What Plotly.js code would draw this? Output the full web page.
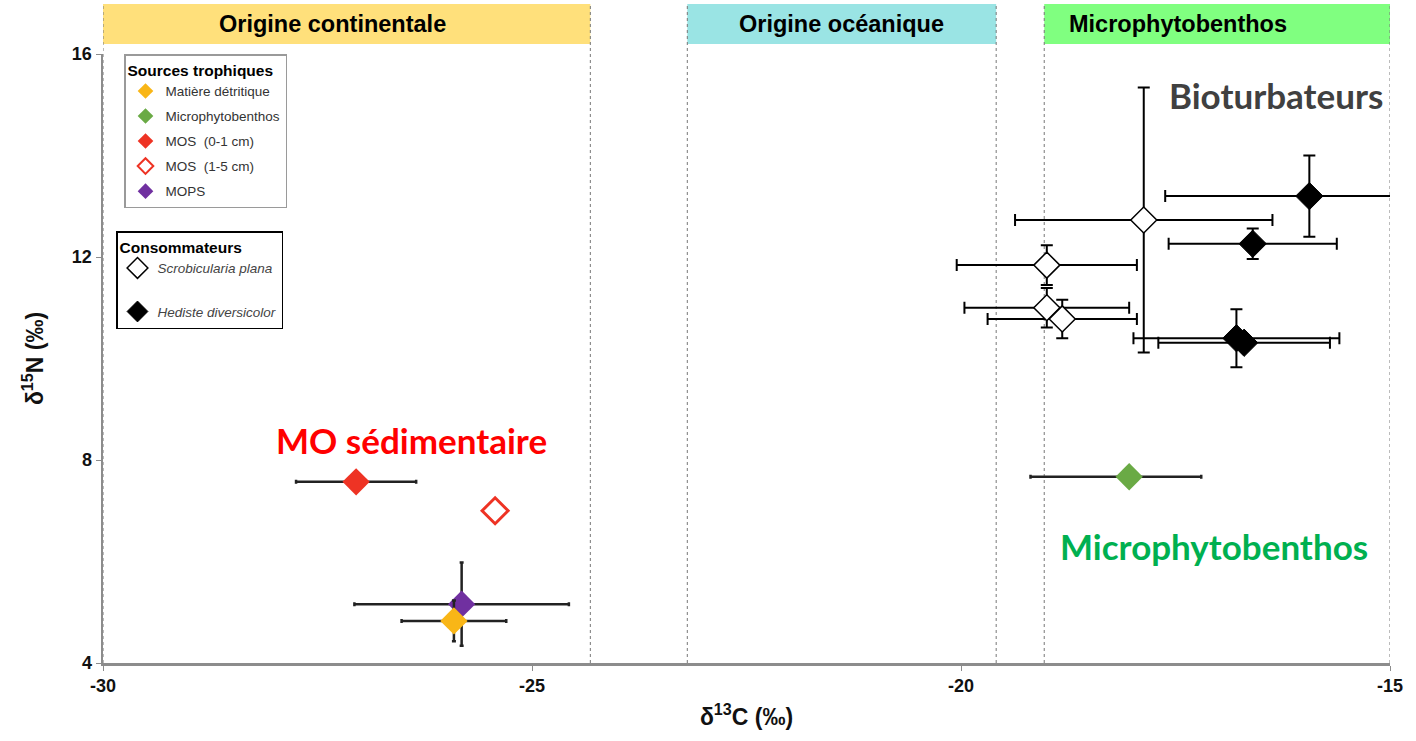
<!DOCTYPE html>
<html><head><meta charset="utf-8">
<script src="https://cdn.plot.ly/plotly-3.0.1.min.js"></script>
<style>html,body{margin:0;padding:0;background:#fff}#chart{width:1416px;height:741px}</style>
</head><body><div id="chart"></div>
<script>
// ---- data (δ13C, δ15N, ‰) ----
const detX=[-25.91], detY=[4.83], detEX=[0.61], detEY=[0.40];
const microX=[-18.04], microY=[7.67], microEXplus=[0.84], microEXminus=[1.15];
const mos01X=[-27.05], mos01Y=[7.57], mos01EX=[0.70];
const mos15X=[-25.43], mos15Y=[7.00];
const mopsX=[-25.82], mopsY=[5.16], mopsEX=[1.25], mopsEY=[0.82];
const scroX=[-17.87,-19.00,-19.00,-18.82], scroY=[12.73,11.84,11.00,10.78];
const scroEX=[1.50,1.05,0.96,0.87], scroEY=[2.61,0.39,0.39,0.38];
const hedX=[-15.94,-16.60,-16.79,-16.70], hedY=[13.20,12.26,10.40,10.31];
const hedEX=[1.68,0.98,1.20,1.00], hedEY=[0.80,0.30,0.57,0];
const zoneNames=['Origine continentale','Origine océanique','Microphytobenthos'];
const zoneX0=[-30,-23.19,-19.03], zoneX1=[-24.32,-19.59,-15.0];
const zoneLabelX=[-27.32,-21.39,-17.47];
const zoneColors=['#FFE07B','#9AE4E4','#80FF80'];
const xTicks=[-30,-25,-20,-15], yTicks=[4,8,12,16];

const srcErr=(a,m)=>Object.assign({type:'data',array:a,color:'#222',thickness:2.5,width:2},m?{symmetric:false,arrayminus:m}:{});
const conErr=(a)=>({type:'data',array:a,color:'#000',thickness:2,width:6});

const traces=[
 {x:mopsX,y:mopsY,name:'MOPS',mode:'markers',legend:'legend',legendgroup:'g5',legendrank:5,
  marker:{symbol:'diamond',size:21,color:'#7030A0'},error_x:srcErr(mopsEX),error_y:srcErr(mopsEY)},
 {x:detX,y:detY,name:'Matière détritique',mode:'markers',legend:'legend',legendgroup:'g1',legendrank:1,
  marker:{symbol:'diamond',size:21,color:'#F9B617'},error_x:srcErr(detEX),error_y:srcErr(detEY)},
 {x:microX,y:microY,name:'Microphytobenthos',mode:'markers',legend:'legend',legendgroup:'g2',legendrank:2,
  marker:{symbol:'diamond',size:21,color:'#6AAA45'},error_x:srcErr(microEXplus,microEXminus)},
 {x:mos01X,y:mos01Y,name:'MOS  (0-1 cm)',mode:'markers',legend:'legend',legendgroup:'g3',legendrank:3,
  marker:{symbol:'diamond',size:21,color:'#EE3324'},error_x:srcErr(mos01EX)},
 {x:mos15X,y:mos15Y,name:'MOS  (1-5 cm)',mode:'markers',legend:'legend',legendgroup:'g4',legendrank:4,
  marker:{symbol:'diamond',size:20,color:'#fff',line:{color:'#EE3324',width:3}}},
 {x:scroX,y:scroY,name:'<i>Scrobicularia plana</i>',mode:'markers',legend:'legend2',legendgroup:'c1',legendrank:6,
  marker:{symbol:'diamond',size:20,color:'#fff',line:{color:'#000',width:1.5}},error_x:conErr(scroEX),error_y:conErr(scroEY)},
 {x:hedX,y:hedY,name:'<i>Hediste diversicolor</i>',mode:'markers',legend:'legend2',legendgroup:'c2',legendrank:7,cliponaxis:false,
  marker:{symbol:'diamond',size:21,color:'#000',line:{color:'#000',width:1}},error_x:conErr(hedEX),error_y:conErr(hedEY)}
];

const top0=1+(54-44)/609, top1=1+(54-4)/609;
const shapes=[];
zoneNames.forEach((n,i)=>{
  shapes.push({type:'rect',xref:'x',yref:'paper',x0:zoneX0[i],x1:zoneX1[i],y0:top0,y1:top1,fillcolor:zoneColors[i],line:{width:0},layer:'below'});
  [zoneX0[i],zoneX1[i]].forEach(xv=>shapes.push({type:'line',xref:'x',yref:'paper',x0:xv,x1:xv,y0:0,y1:top1,line:{color:'#777',width:1,dash:'dot'},layer:'below'}));
});
const annotations=zoneNames.map((n,i)=>({text:'<b>'+n+'</b>',xref:'x',yref:'paper',x:zoneLabelX[i],y:1+(54-24)/609,yanchor:'middle',xanchor:'center',showarrow:false,
  font:{family:'Liberation Sans, Arial, sans-serif',size:23.5,color:'#000'}}));
annotations.push(
 {text:'<b>Bioturbateurs</b>',xref:'x',yref:'y',x:-16.33,y:15.19,yanchor:'middle',showarrow:false,font:{family:'Lato, sans-serif',size:35,color:'#404040'}},
 {text:'<b>MO sédimentaire</b>',xref:'x',yref:'y',x:-26.41,y:8.39,yanchor:'middle',showarrow:false,font:{family:'Lato, sans-serif',size:35,color:'#FF0000'}},
 {text:'<b>Microphytobenthos</b>',xref:'x',yref:'y',x:-17.05,y:6.30,yanchor:'middle',showarrow:false,font:{family:'Lato, sans-serif',size:35,color:'#00B050'}}
);

const axFont={family:'Liberation Sans Narrow, Liberation Sans, Arial, sans-serif',size:18,color:'#111',weight:'bold'};
const layout={
  width:1416,height:741,margin:{l:103,r:26,t:54,b:78},
  paper_bgcolor:'#fff',plot_bgcolor:'#fff',showlegend:true,
  xaxis:{range:[-30,-15],tickvals:xTicks,ticktext:xTicks.map(String),showgrid:false,zeroline:false,
    showline:true,linecolor:'#8c8c8c',linewidth:2.5,ticks:'outside',ticklen:5,tickcolor:'#8c8c8c',tickfont:axFont,
    title:{text:'<b>δ<sup>13</sup>C (‰)</b>',font:{family:'Liberation Sans Narrow, Liberation Sans, Arial, sans-serif',size:23,color:'#111'},standoff:14}},
  yaxis:{range:[4,16],tickvals:yTicks,ticktext:yTicks.map(String),showgrid:false,zeroline:false,
    showline:true,linecolor:'#8c8c8c',linewidth:2.5,ticks:'outside',ticklen:5,tickcolor:'#8c8c8c',tickfont:axFont,
    title:{text:'<b>δ<sup>15</sup>N (‰)</b>',font:{family:'Liberation Sans Narrow, Liberation Sans, Arial, sans-serif',size:23,color:'#111'},standoff:22}},
  legend:{x:(124-103)/1287,y:1,xanchor:'left',yanchor:'top',bgcolor:'#fff',bordercolor:'#9a9a9a',borderwidth:1.5,
    traceorder:'grouped',tracegroupgap:4.5,itemsizing:'constant',
    font:{family:'Liberation Sans, Arial, sans-serif',size:13.5,color:'#333'},
    title:{text:'<b>Sources trophiques</b>',font:{family:'Liberation Sans, Arial, sans-serif',size:15.5,color:'#000'}}},
  legend2:{x:(116-103)/1287,y:1-(231-54)/609,xanchor:'left',yanchor:'top',bgcolor:'#fff',bordercolor:'#000',borderwidth:1.5,
    traceorder:'grouped',tracegroupgap:23,itemsizing:'trace',
    font:{family:'Liberation Sans, Arial, sans-serif',size:13.5,color:'#444'},
    title:{text:'<b>Consommateurs</b>',font:{family:'Liberation Sans, Arial, sans-serif',size:15.5,color:'#000'}}},
  shapes:shapes,annotations:annotations
};
Plotly.newPlot('chart',traces,layout,{displayModeBar:false,staticPlot:true});
</script></body></html>
